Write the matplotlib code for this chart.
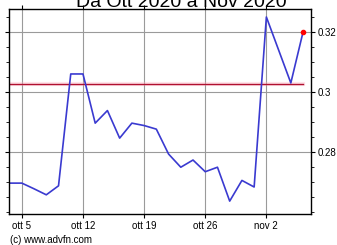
import numpy as np
import matplotlib.pyplot as plt
from matplotlib.ticker import MultipleLocator

# giorni di borsa, dal 2 ott al 5 nov 2020
days = ["ott 2", "ott 5", "ott 6", "ott 7", "ott 8", "ott 9",
        "ott 12", "ott 13", "ott 14", "ott 15", "ott 16",
        "ott 19", "ott 20", "ott 21", "ott 22", "ott 23",
        "ott 26", "ott 27", "ott 28", "ott 29", "ott 30",
        "nov 2", "nov 3", "nov 4", "nov 5"]
prices = [0.2696, 0.2696, 0.2677, 0.2657, 0.2687, 0.3060,
          0.3060, 0.2896, 0.2938, 0.2846, 0.2896,
          0.2888, 0.2876, 0.2793, 0.2749, 0.2773,
          0.2734, 0.2749, 0.2636, 0.2705, 0.2683,
          0.3250, 0.3140, 0.3030, 0.3200]
ref_level = 0.3025
tick_labels = ["ott 5", "ott 12", "ott 19", "ott 26", "nov 2"]
y_ticks = [0.28, 0.30, 0.32]
y_tick_labels = ["0.28", "0.3", "0.32"]

plt.rcParams['font.family'] = ['Liberation Sans', 'DejaVu Sans']

x = np.arange(len(days))
tick_pos = [days.index(t) for t in tick_labels]

fig = plt.figure(figsize=(3.37, 2.45), dpi=100)
ax = fig.add_axes([9 / 337, 1 - 214 / 245, 302 / 337, 204.5 / 245])

ax.grid(True, color='#9a9a9a', linewidth=0.8)
ax.set_axisbelow(True)

ax.plot([x[0], x[-1]], [ref_level, ref_level], color='#ffb0c0', linewidth=3, alpha=0.35)
ax.plot([x[0], x[-1]], [ref_level, ref_level], color='#b01030', linewidth=1)
ax.plot(x, prices, color='#3a3ad0', linewidth=1.2)
ax.plot(x[-1], prices[-1], 'o', color='red', markersize=3)

ax.set_xlim(-0.05, 24.65)
ax.set_ylim(0.2593, 0.3275)

ax.set_xticks(tick_pos)
ax.set_xticklabels(tick_labels, fontsize=7)
ax.set_yticks(y_ticks)
ax.set_yticklabels(y_tick_labels, fontsize=7)
ax.yaxis.set_minor_locator(MultipleLocator(0.005))
ax.yaxis.tick_right()
ax.tick_params(axis='y', which='major', direction='out', length=3, pad=1.5,
               right=True, left=True)
ax.tick_params(axis='y', which='minor', length=2, right=True, left=True)
ax.tick_params(axis='x', direction='out', length=3, pad=2, top=True)
for s in ax.spines.values():
    s.set_linewidth(1)
    s.set_color('black')

fig.text(181 / 337, 1 - 7 / 245, "Da Ott 2020 a Nov 2020", ha='center', va='baseline', fontsize=14)
fig.text(10 / 337, 1 - 243 / 245, "(c) www.advfn.com", ha='left', va='baseline', fontsize=7)

fig.savefig("out.png", dpi=100)
